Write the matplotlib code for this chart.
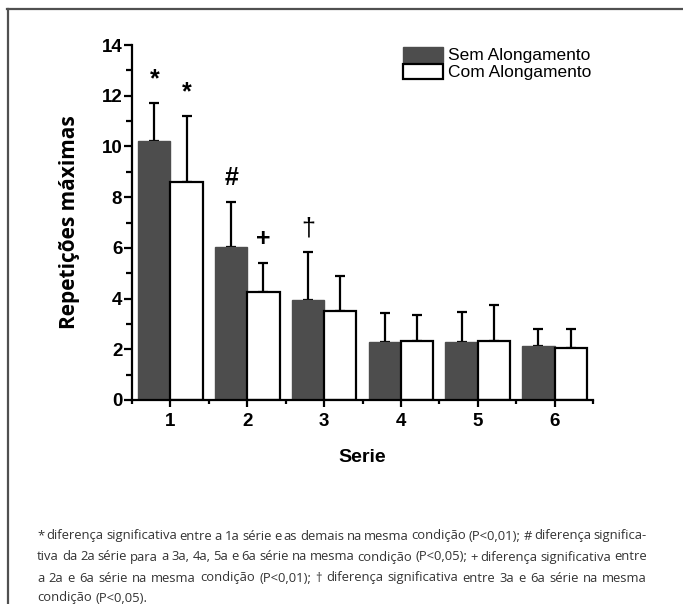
import matplotlib
matplotlib.use('Agg')
import matplotlib.pyplot as plt
import numpy as np
from matplotlib.lines import Line2D
from matplotlib.ticker import MultipleLocator
from matplotlib.font_manager import FontProperties

plt.rcParams['font.family'] = ['Liberation Sans', 'DejaVu Sans']

# data
series = [1, 2, 3, 4, 5, 6]
sem_along = [10.2, 6.05, 3.95, 2.28, 2.28, 2.13]
sem_err = [1.52, 1.76, 1.89, 1.16, 1.19, 0.68]
com_along = [8.6, 4.27, 3.5, 2.32, 2.32, 2.06]
com_err = [2.61, 1.14, 1.38, 1.05, 1.44, 0.75]

# significance marks: symbol, serie, group (0 = sem, 1 = com)
sig_symbols = ['*', '*', '#', '+', '\u2020']
sig_serie = [1, 1, 2, 2, 3]
sig_group = [0, 1, 0, 1, 0]

footnote = [
    '* diferença significativa entre a 1a série e as demais na mesma condição (P<0,01); # diferença significa-',
    'tiva da 2a série para a 3a, 4a, 5a e 6a série na mesma condição (P<0,05); + diferença significativa entre',
    'a 2a e 6a série na mesma condição (P<0,01); \u2020 diferença significativa entre 3a e 6a série na mesma',
    'condição (P<0,05).',
]

W, H = 683, 604
fig = plt.figure(figsize=(W / 100, H / 100), dpi=100)

# frame (top and left only)
fig.add_artist(Line2D([7 / W, 1], [1 - 9 / H, 1 - 9 / H], color='#505050', lw=1.6))
fig.add_artist(Line2D([8 / W, 8 / W], [1 - 9 / H, 0], color='#505050', lw=1.6))

ax = fig.add_axes([132 / W, 1 - 400 / H, (593 - 132) / W, (400 - 45) / H])

x = np.array(series, dtype=float)
bw = 0.42
dark = '#4d4d4d'
ax.bar(x - bw / 2, sem_along, width=bw, color=dark, edgecolor=dark, lw=1.0,
       label='Sem Alongamento', zorder=2)
ax.bar(x + bw / 2, com_along, width=bw, color='white', edgecolor='black', lw=1.6,
       label='Com Alongamento', zorder=2)
ax.errorbar(x - bw / 2, sem_along, yerr=[np.zeros(len(x)), sem_err], fmt='none',
            ecolor='black', elinewidth=1.6, capsize=3.6, capthick=1.6, zorder=1)
ax.errorbar(x + bw / 2, com_along, yerr=[np.zeros(len(x)), com_err], fmt='none',
            ecolor='black', elinewidth=1.6, capsize=3.6, capthick=1.6, zorder=1)

for sym, s, g in zip(sig_symbols, sig_serie, sig_group):
    i = series.index(s)
    if g == 0:
        xp = x[i] - bw / 2
        yp = sem_along[i] + sem_err[i]
    else:
        xp = x[i] + bw / 2
        yp = com_along[i] + com_err[i]
    weight = 'normal' if sym == '\u2020' else 'bold'
    ax.text(xp, yp + 0.65, sym, ha='center', va='baseline', fontsize=18,
            fontweight=weight)

ax.set_xlim(0.5, 6.5)
ax.set_ylim(0, 14)
ax.set_xticks(series)
ax.set_xticks(np.arange(0.5, 7, 1), minor=True)
ax.yaxis.set_major_locator(MultipleLocator(2))
ax.yaxis.set_minor_locator(MultipleLocator(1))

for side in ['top', 'right']:
    ax.spines[side].set_visible(False)
for side in ['left', 'bottom']:
    ax.spines[side].set_linewidth(1.6)

ax.tick_params(axis='y', which='major', length=6, width=1.6, pad=1, labelsize=13.5)
ax.tick_params(axis='y', which='minor', length=4, width=1.6)
ax.tick_params(axis='x', which='major', length=5, width=1.6, pad=4, labelsize=13.5)
ax.tick_params(axis='x', which='minor', length=3, width=1.6)
for lab in ax.get_xticklabels() + ax.get_yticklabels():
    lab.set_fontweight('bold')

ax.set_xlabel('Serie', fontsize=14, fontweight='bold', labelpad=14)
fig.text(69 / W, 1 - 222 / H, 'Repetições máximas', rotation=90, ha='center',
         va='center', fontsize=15, fontweight='bold',
         family=['Open Sans', 'DejaVu Sans'])

ax.legend(loc='upper left', bbox_to_anchor=(403 / W, 1 - 47 / H),
          bbox_transform=fig.transFigure, frameon=False, fontsize=12.5,
          handlelength=2.3, handleheight=0.92, handletextpad=0.3,
          labelspacing=0.05, borderpad=0, borderaxespad=0)

# footnote, justified: words placed where they sit in the full line,
# plus an even share of the leftover width in every space
renderer = fig.canvas.get_renderer()
x0, x1 = 37, 647
line_y = [536, 557, 578, 598]
fsize = 9.4
fprop = FontProperties(family=['Open Sans', 'DejaVu Sans'], size=fsize)


def tw(s):
    return renderer.get_text_width_height_descent(s, fprop, ismath=False)[0]


for k, line in enumerate(footnote):
    y = 1 - line_y[k] / H
    words = line.split(' ')
    last = k == len(footnote) - 1
    extra = 0 if last else (x1 - x0 - tw(line)) / (len(words) - 1)
    for j, word in enumerate(words):
        if j == 0:
            left = x0
        else:
            prefix = ' '.join(words[:j]) + ' ' + word[0]
            left = x0 + tw(prefix) - tw(word[0]) + j * extra
        fig.text(left / W, y, word, fontproperties=fprop, color='#333333',
                 va='center', ha='left')

fig.savefig('out.png', dpi=100)
